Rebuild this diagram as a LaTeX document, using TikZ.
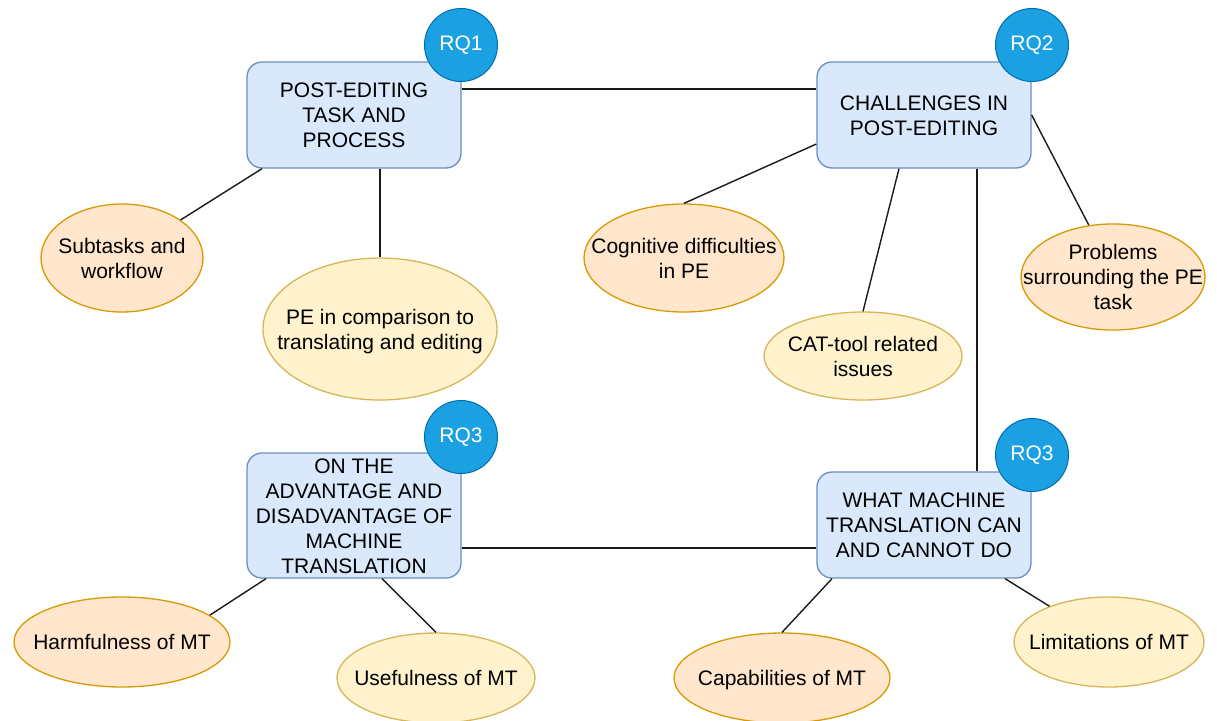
\documentclass[tikz,border=0pt]{standalone}
\usepackage{fontspec}
\setmainfont{Liberation Sans}
\usetikzlibrary{shapes.geometric}

\definecolor{boxfill}{HTML}{DAE8FC}
\definecolor{boxline}{HTML}{6C8EBF}
\definecolor{warmfill}{HTML}{FFE6CC}
\definecolor{warmline}{HTML}{D79B00}
\definecolor{palefill}{HTML}{FFF2CC}
\definecolor{paleline}{HTML}{D6B656}
\definecolor{rqfill}{HTML}{1BA1E2}
\definecolor{rqline}{HTML}{006EAF}
\definecolor{linkcol}{HTML}{1A1A1A}

% centred multi-line text that does not widen the shape around it;
% rows use a strut balanced around the capital letters
\newcommand\ml[1]{\makebox[0pt]{%
  \setbox\strutbox=\hbox{\vrule height 20pt depth 5pt width 0pt}%
  \begin{tabular}{@{}c@{}}#1\end{tabular}}}

\begin{document}
\begin{tikzpicture}[x=1pt,y=-1pt,
  every node/.style={font=\fontsize{21}{25}\selectfont, inner sep=0pt},
  topic/.style={rectangle, rounded corners=15pt, draw=boxline, fill=boxfill,
    line width=1.3pt, minimum width=214pt, minimum height=106pt},
  warmell/.style={ellipse, draw=warmline, fill=warmfill, line width=1.3pt},
  paleell/.style={ellipse, draw=paleline, fill=palefill, line width=1.3pt},
  rq/.style={circle, draw=rqline, fill=rqfill, text=white, minimum size=73pt,
    line width=1pt},
  link/.style={draw=linkcol, line width=1.4pt}]

\fill[white] (0,0) rectangle (1217,720);
\useasboundingbox (0,0) rectangle (1217,720);
\clip (0,0) rectangle (1217,720);

% topic boxes
\node[topic] (b1) at (354,115) {\ml{POST-EDITING\\TASK AND\\PROCESS}};
\node[topic] (b2) at (924,115) {\ml{CHALLENGES IN\\POST-EDITING}};
\node[topic, minimum height=125pt] (b3) at (354,515.5)
  {\ml{ON THE\\ADVANTAGE AND\\DISADVANTAGE OF\\MACHINE\\TRANSLATION}};
\node[topic] (b4) at (924,525) {\ml{WHAT MACHINE\\TRANSLATION CAN\\AND CANNOT DO}};

% sub-topics
\node[warmell, minimum width=162pt, minimum height=108pt] (sub) at (122,258)
  {\ml{Subtasks and\\workflow}};
\node[paleell, minimum width=234pt, minimum height=142pt] (pec) at (380,329)
  {\ml{PE in comparison to\\translating and editing}};
\node[warmell, minimum width=200pt, minimum height=108pt] (cog) at (684,258)
  {\ml{Cognitive difficulties\\in PE}};
\node[paleell, minimum width=198pt, minimum height=88pt] (cat) at (863,356)
  {\ml{CAT-tool related\\issues}};
\node[warmell, minimum width=184pt, minimum height=106pt] (prob) at (1113,277)
  {\ml{Problems\\surrounding the PE\\task}};
\node[warmell, minimum width=216pt, minimum height=90pt] (harm) at (122,642)
  {\ml{Harmfulness of MT}};
\node[paleell, minimum width=198pt, minimum height=90pt] (use) at (436,678)
  {\ml{Usefulness of MT}};
\node[warmell, minimum width=216pt, minimum height=90pt] (cap) at (782,678)
  {\ml{Capabilities of MT}};
\node[paleell, minimum width=190pt, minimum height=90pt] (lim) at (1109,642)
  {\ml{Limitations of MT}};

% connectors
\draw[link] ([yshift=26pt]b1.east) -- ([yshift=26pt]b2.west);
\draw[link] ([xshift=-92pt]b1.south) -- (sub.33);
\draw[link] ([xshift=26pt]b1.south) -- (pec.north);
\draw[link] ([yshift=-29pt]b2.west) -- (cog.north);
\draw[link] ([xshift=-25pt]b2.south) -- (cat.north);
\draw[link] ([xshift=53pt]b2.south) -- ([xshift=53pt]b4.north);
\draw[link] (b2.east) -- (prob.115);
\draw[link] ([yshift=-32.5pt]b3.east) -- ([yshift=-23pt]b4.west);
\draw[link] ([xshift=-88pt]b3.south) -- (harm.17);
\draw[link] ([xshift=28pt]b3.south) -- (use.north);
\draw[link] ([xshift=-92pt]b4.south) -- (cap.north);
\draw[link] ([xshift=81pt]b4.south) -- (lim.149);

% research-question badges
\node[rq] (rq1) at (461,45) {RQ1};
\node[rq] (rq2) at (1032,45) {RQ2};
\node[rq] (rq3a) at (461,437) {RQ3};
\node[rq] (rq3b) at (1032,455) {RQ3};
\end{tikzpicture}
\end{document}
